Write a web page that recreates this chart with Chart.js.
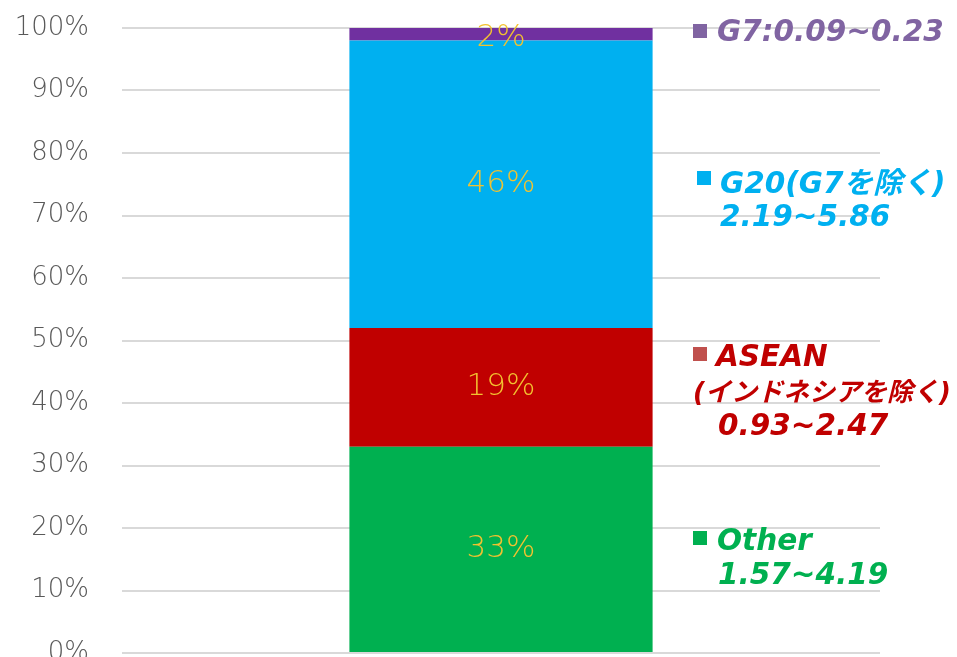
<!DOCTYPE html>
<html><head><meta charset="utf-8">
<script src="https://cdn.jsdelivr.net/npm/chart.js@4"></script>
<style>html,body{margin:0;padding:0;background:#fff;}#wrap{width:957px;height:657px;}</style>
</head><body><div id="wrap"><canvas id="c" width="957" height="657"></canvas></div>
<script>
const categories = [""];
const seriesNames = ["Other", "ASEAN", "G20", "G7"];
const otherValues = [33];
const aseanValues = [19];
const g20Values = [46];
const g7Values = [2];
const seriesColors = ["#00B050", "#C00000", "#00B0F0", "#7030A0"];
const tickValues = [0,10,20,30,40,50,60,70,80,90,100];
const legendLines = [
  {sq:"#8064A2", color:"#8064A2", lines:[{t:"G7:0.09~0.23", dx:24, y:41}]},
  {sq:"#00B0F0", color:"#00B0F0", lines:[{t:"G20(G7を除く)", dx:27, y:193},{t:"2.19~5.86", dx:27, y:226}]},
  {sq:"#C0504D", color:"#C00000", lines:[{t:"ASEAN", dx:23, y:366},{t:"(インドネシアを除く)", dx:0, y:401, small:true},{t:"0.93~2.47", dx:25, y:435}]},
  {sq:"#00B050", color:"#00B050", lines:[{t:"Other", dx:24, y:550},{t:"1.57~4.19", dx:25, y:584}]}
];
const sqY = [24, 171, 347, 531];

const valuePlugin = {
  id:"vals",
  afterDatasetsDraw(chart){
    const ctx = chart.ctx;
    ctx.save();
    ctx.font = "200 31px 'DejaVu Sans'";
    ctx.fillStyle = "#F2C230";
    ctx.textAlign = "center";
    ctx.textBaseline = "middle";
    chart.data.datasets.forEach((ds,i)=>{
      const meta = chart.getDatasetMeta(i);
      meta.data.forEach((bar,j)=>{
        const v = ds.data[j];
        let y = (bar.y + bar.base)/2;
        if (v < 5) y = bar.y + 10;
        ctx.fillText(v + "%", bar.x, y);
      });
    });
    ctx.restore();
  }
};
const legendPlugin = {
  id:"sideLegend",
  afterDraw(chart){
    const ctx = chart.ctx;
    const x0 = 693;
    ctx.save();
    legendLines.forEach((g,gi)=>{
      ctx.fillStyle = g.sq;
      ctx.fillRect(x0 + (gi===1?4:0), sqY[gi], 14, 14);
      ctx.fillStyle = g.color;
      ctx.textBaseline = "alphabetic";
      ctx.textAlign = "left";
      g.lines.forEach(l=>{
        ctx.font = l.small ? "italic bold 26px 'DejaVu Sans', 'Noto Sans CJK JP'" : "italic bold 29.5px 'DejaVu Sans', 'Noto Sans CJK JP'";
        ctx.fillText(l.t, x0 + l.dx, l.y);
      });
    });
    ctx.restore();
  }
};

new Chart(document.getElementById("c"), {
  type:"bar",
  data:{
    labels: categories,
    datasets:[
      {label:seriesNames[0], data:otherValues, backgroundColor:seriesColors[0]},
      {label:seriesNames[1], data:aseanValues, backgroundColor:seriesColors[1]},
      {label:seriesNames[2], data:g20Values, backgroundColor:seriesColors[2]},
      {label:seriesNames[3], data:g7Values, backgroundColor:seriesColors[3]}
    ].map(d=>Object.assign(d,{barPercentage:1, categoryPercentage:0.4, borderWidth:0}))
  },
  options:{
    responsive:false, animation:false,
    layout:{padding:{top:28, right:77, bottom:4, left:0}},
    plugins:{legend:{display:false}, tooltip:{enabled:false}},
    scales:{
      x:{stacked:true, display:false},
      y:{stacked:true, min:0, max:100,
        afterFit(s){ s.width = 122; s.paddingTop = 0; s.paddingBottom = 0; },
        afterBuildTicks(s){ s.ticks = tickValues.map(v=>({value:v})); },
        grid:{color:"#D9D9D9", lineWidth:2, drawTicks:false},
        border:{display:false},
        ticks:{padding:33, color:"#595959", font:{family:"'DejaVu Sans'", size:26, weight:"200"}, callback:v=>v+"%"}
      }
    }
  },
  plugins:[valuePlugin, legendPlugin]
});
</script></body></html>
